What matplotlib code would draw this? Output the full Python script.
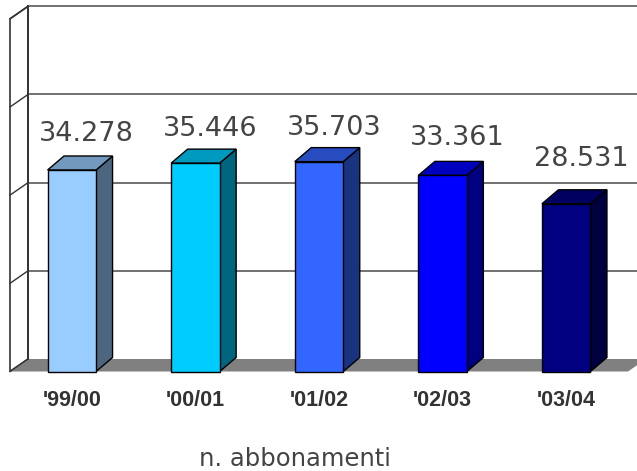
import matplotlib
matplotlib.use("Agg")
import matplotlib.pyplot as plt
from matplotlib.patches import Polygon

# ---- data ----
categories = ["'99/00", "'00/01", "'01/02", "'02/03", "'03/04"]
values = [34278, 35446, 35703, 33361, 28531]
front_colors = ["#99CCFF", "#00CCFF", "#3366FF", "#0000FF", "#000080"]
top_colors = ["#7399BF", "#0099BF", "#264CBF", "#0000BF", "#000060"]
side_colors = ["#4D6680", "#006680", "#1A3380", "#000080", "#000040"]
grid_values = [0, 15000, 30000, 45000, 60000]
title = "n. abbonamenti"

# ---- layout ----
W, H = 637, 471
fig = plt.figure(figsize=(W / 100, H / 100), dpi=100)
ax = fig.add_axes([0, 0, 1, 1])
ax.set_axis_off()

px_per_cat = 123.6
val_per_px = 60000 / 352.7
x0_px, y0_px = 10, 371.5
ax.set_xlim(-0.5 - x0_px / px_per_cat, -0.5 + (W - x0_px) / px_per_cat)
ax.set_ylim((y0_px - H) * val_per_px, y0_px * val_per_px)

WDX = 18 / px_per_cat
WDY = 12.5 * val_per_px
BDX = 16.5 / px_per_cat
BDY = 14 * val_per_px
bw = 48.5 / px_per_cat
n = len(categories)
left, right = -0.5, n - 0.5
top = grid_values[-1]

# left wall
ax.add_patch(Polygon([(left, 0), (left + WDX, WDY), (left + WDX, top + WDY), (left, top)],
                     closed=True, facecolor="white", edgecolor="#333333", lw=1.2, zorder=1))
# floor
ax.add_patch(Polygon([(left, 0), (left + WDX, WDY), (right + WDX, WDY), (right, 0)],
                     closed=True, facecolor="#808080", edgecolor="none", zorder=1))
# gridlines on back wall + diagonals on left wall
for g in grid_values:
    if g > 0:
        ax.plot([left + WDX, right + WDX], [g + WDY, g + WDY], color="#666666", lw=1.3, zorder=1.5)
    ax.plot([left, left + WDX], [g, g + WDY], color="#333333", lw=1.0, zorder=1.5)
ax.plot([left + WDX, left + WDX], [WDY, top + WDY], color="#333333", lw=1.3, zorder=1.6)

# bars
for i, (v, fc, tc, sc) in enumerate(zip(values, front_colors, top_colors, side_colors)):
    xl, xr = i - bw / 2, i + bw / 2
    ax.add_patch(Polygon([(xr, 0), (xr + BDX, BDY), (xr + BDX, v + BDY), (xr, v)],
                         closed=True, facecolor=sc, edgecolor="black", lw=1, zorder=3))
    ax.add_patch(Polygon([(xl, v), (xl + BDX, v + BDY), (xr + BDX, v + BDY), (xr, v)],
                         closed=True, facecolor=tc, edgecolor="black", lw=1, zorder=3))
    ax.bar(i, v, width=bw, color=fc, edgecolor="black", lw=1, zorder=4)
    label = f"{v:,}".replace(",", ".")
    ax.text(i + 15 / px_per_cat, v * 0.75 + 13500, label, ha="center", va="baseline",
            fontsize=19.5, family="DejaVu Sans", color="#444444", zorder=5)
    ax.text(i, -29 * val_per_px, categories[i], ha="center", va="center",
            fontsize=15.5, fontweight="bold", family="Liberation Sans", color="#333333")

fig.text(294.7 / W, 5 / H, title, ha="center", va="baseline", fontsize=17.5,
         family="DejaVu Sans", color="#444444")

fig.savefig("out.png", dpi=100)
